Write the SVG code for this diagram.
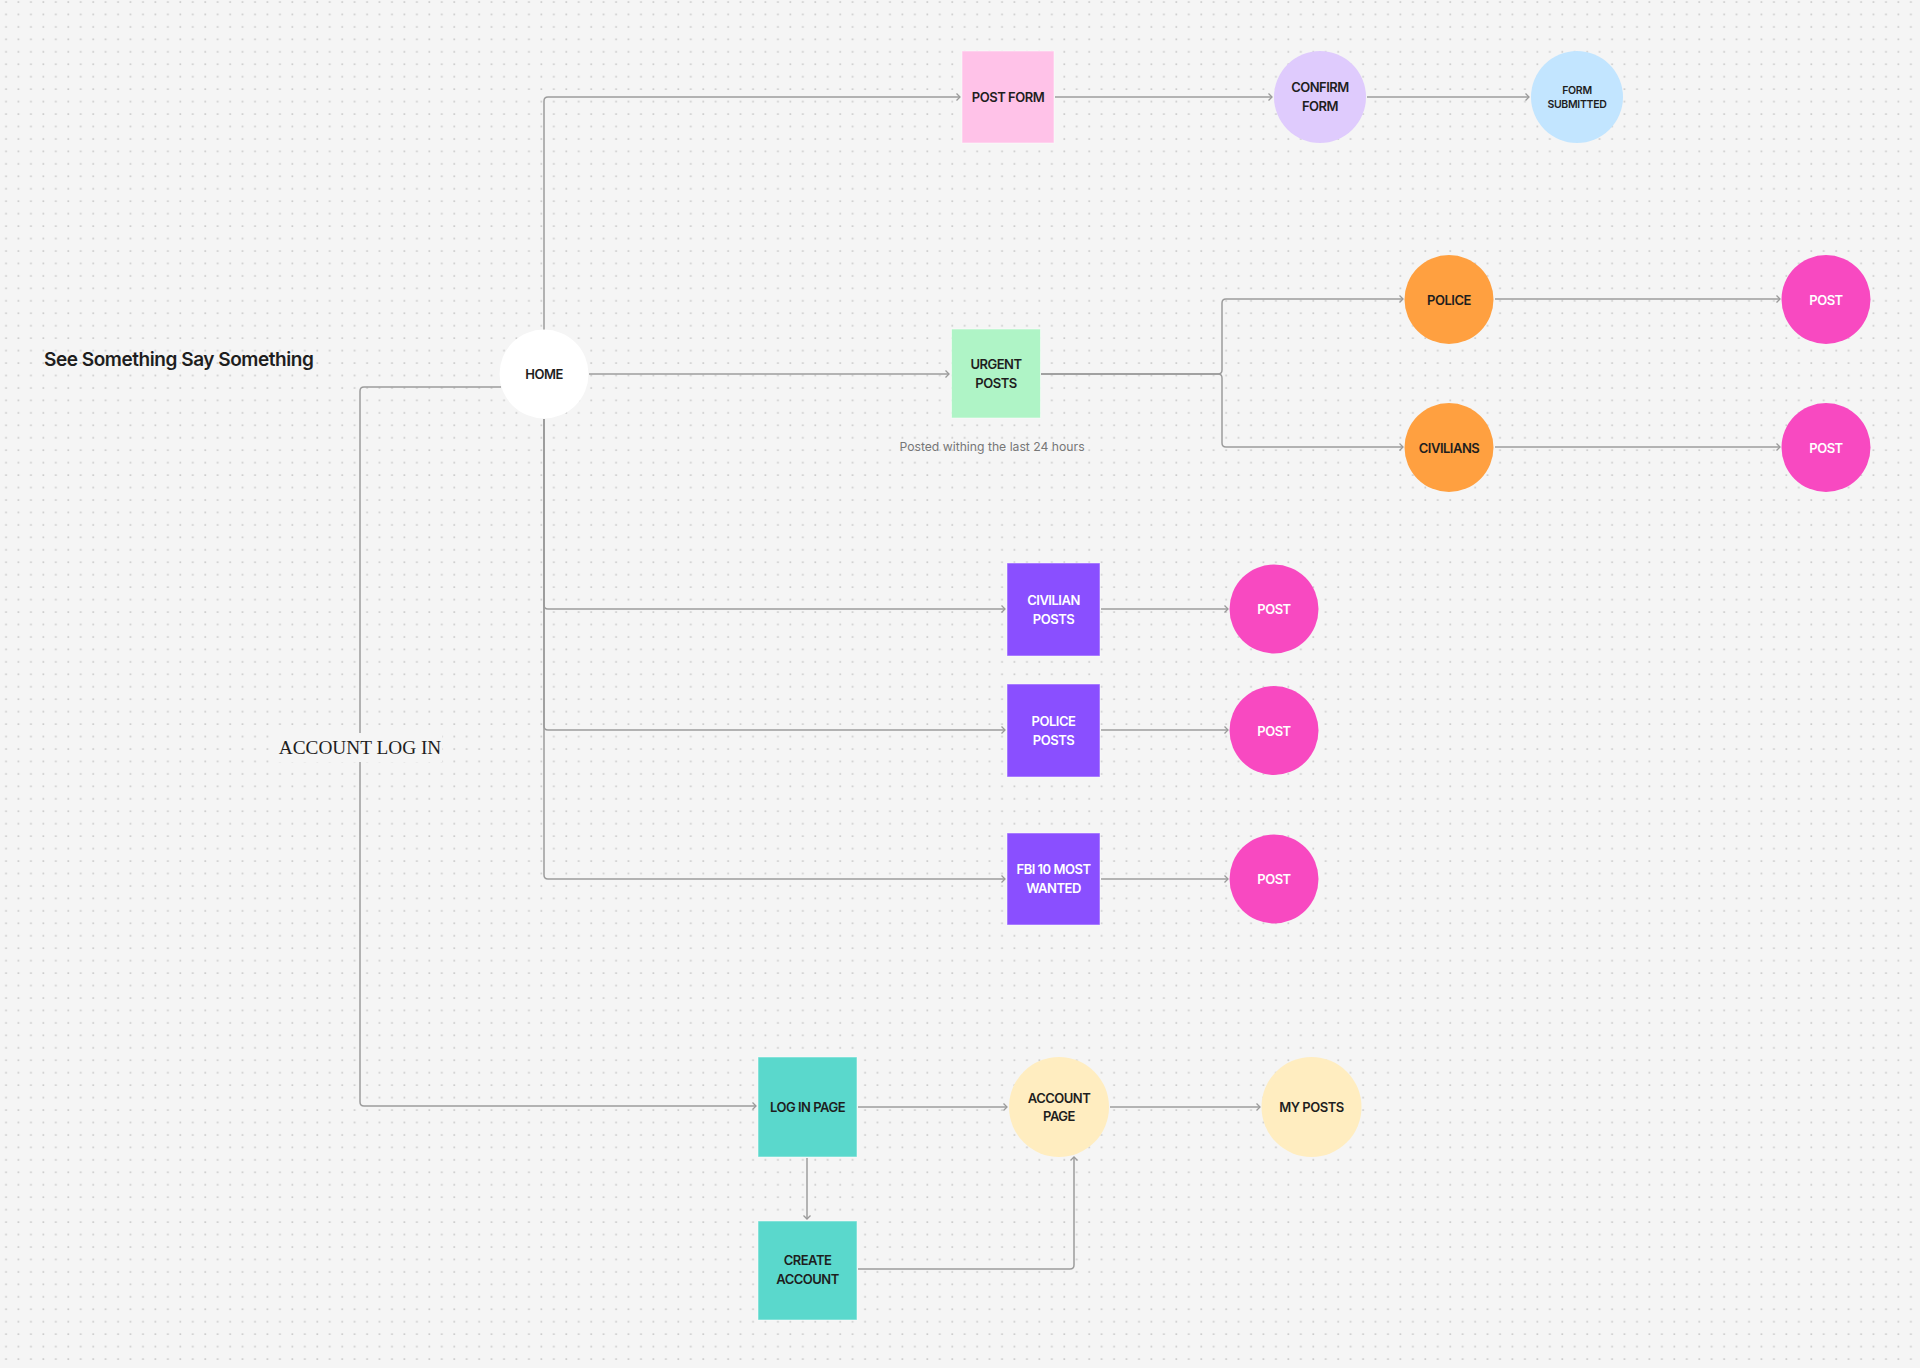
<svg xmlns="http://www.w3.org/2000/svg" width="1920" height="1368" viewBox="0 0 1920 1368">
  <defs>
    <pattern id="dots" x="0" y="0" width="12.45" height="12.45" patternUnits="userSpaceOnUse">
      <rect x="5.2" y="1.2" width="1.7" height="1.7" fill="#cbcbcb"/>
    </pattern>
    <marker id="arr" markerWidth="10" markerHeight="10" refX="5" refY="4" orient="auto" markerUnits="userSpaceOnUse">
      <path d="M1.5,0.5 L5,4 L1.5,7.5" fill="none" stroke="#9a9a9a" stroke-width="1.3"/>
    </marker>
  </defs>
  <style>
    .lbl { font-family: Inter, "Liberation Sans", sans-serif; font-weight: 600; font-size: 13px; letter-spacing: -0.5px; text-anchor: middle; fill: #1e1e1e; }
    .w { fill: #ffffff; }
    .sm { font-size: 10.5px; letter-spacing: -0.3px; }
    .conn { fill: none; stroke: #9c9c9c; stroke-width: 1.5; }
    .box { stroke: #ffffff; stroke-opacity: 0.5; stroke-width: 1; }
  </style>
  <rect width="1920" height="1368" fill="#f5f5f5"/>
  <rect width="1920" height="1368" fill="url(#dots)"/>

  <text x="44" y="366" font-family="Inter, 'Liberation Sans', sans-serif" font-weight="600" font-size="19" letter-spacing="-0.45" fill="#1e1e1e">See Something Say Something</text>

  <g id="connectors">
    <path class="conn" d="M544,330 V101 Q544,97 548,97 H960" marker-end="url(#arr)"/>
    <path class="conn" d="M589,374 H949" marker-end="url(#arr)"/>
    <path class="conn" d="M1055,97 H1272" marker-end="url(#arr)"/>
    <path class="conn" d="M1367,97 H1529" marker-end="url(#arr)"/>
    <path class="conn" d="M1041,374 H1218 Q1222,374 1222,370 V303 Q1222,299 1226,299 H1403" marker-end="url(#arr)"/>
    <path class="conn" d="M1041,374 H1218 Q1222,374 1222,378 V443 Q1222,447 1226,447 H1403" marker-end="url(#arr)"/>
    <path class="conn" d="M1495,299 H1780" marker-end="url(#arr)"/>
    <path class="conn" d="M1495,447 H1780" marker-end="url(#arr)"/>
    <path class="conn" d="M544,419 V605 Q544,609 548,609 H1005" marker-end="url(#arr)"/>
    <path class="conn" d="M544,419 V726 Q544,730 548,730 H1005" marker-end="url(#arr)"/>
    <path class="conn" d="M544,419 V875 Q544,879 548,879 H1005" marker-end="url(#arr)"/>
    <path class="conn" d="M1101,609 H1228" marker-end="url(#arr)"/>
    <path class="conn" d="M1101,730 H1228" marker-end="url(#arr)"/>
    <path class="conn" d="M1101,879 H1228" marker-end="url(#arr)"/>
    <path class="conn" d="M501,387 H364 Q360,387 360,391 V1102 Q360,1106 364,1106 H756" marker-end="url(#arr)"/>
    <path class="conn" d="M858,1107 H1007" marker-end="url(#arr)"/>
    <path class="conn" d="M807,1158 V1219" marker-end="url(#arr)"/>
    <path class="conn" d="M858,1269 H1070 Q1074,1269 1074,1265 V1157" marker-end="url(#arr)"/>
    <path class="conn" d="M1110,1107 H1260" marker-end="url(#arr)"/>
  </g>

  <g id="account-log-in-label">
    <rect x="278" y="733" width="164" height="29" fill="#f5f5f5"/>
    <text x="360" y="754" font-family="'Liberation Serif', 'Times New Roman', serif" font-size="19.3" text-anchor="middle" fill="#1e1e1e">ACCOUNT LOG IN</text>
  </g>

  <g id="home">
    <circle cx="544" cy="374" r="44.5" fill="#ffffff"/>
    <text class="lbl" x="544" y="378.5">HOME</text>
  </g>

  <g id="post-form">
    <rect class="box" x="962" y="51" width="92" height="92" fill="#ffc2e8"/>
    <text class="lbl" x="1008" y="101.5">POST FORM</text>
  </g>
  <g id="confirm-form">
    <circle cx="1320" cy="97" r="46" fill="#dfcbfd"/>
    <text class="lbl" x="1320" y="92">CONFIRM</text>
    <text class="lbl" x="1320" y="111">FORM</text>
  </g>
  <g id="form-submitted">
    <circle cx="1577" cy="97" r="46" fill="#c2e5ff"/>
    <text class="lbl sm" x="1577" y="94">FORM</text>
    <text class="lbl sm" x="1577" y="108">SUBMITTED</text>
  </g>

  <g id="urgent-posts">
    <rect class="box" x="951.5" y="329" width="89" height="89" fill="#aff4c6"/>
    <text class="lbl" x="996" y="369">URGENT</text>
    <text class="lbl" x="996" y="387.5">POSTS</text>
  </g>
  <text x="992" y="450.5" font-family="Inter, 'Liberation Sans', sans-serif" font-size="12.2" text-anchor="middle" fill="#777777">Posted withing the last 24 hours</text>

  <g id="police">
    <circle cx="1449" cy="299.5" r="44.5" fill="#ffa040"/>
    <text class="lbl" x="1449" y="304.5">POLICE</text>
  </g>
  <g id="civilians">
    <circle cx="1449" cy="447.5" r="44.5" fill="#ffa040"/>
    <text class="lbl" x="1449" y="452.5">CIVILIANS</text>
  </g>
  <g id="post-police">
    <circle cx="1826" cy="299.5" r="44.5" fill="#f849c1"/>
    <text class="lbl w" x="1826" y="304.5">POST</text>
  </g>
  <g id="post-civilians">
    <circle cx="1826" cy="447.5" r="44.5" fill="#f849c1"/>
    <text class="lbl w" x="1826" y="452.5">POST</text>
  </g>

  <g id="civilian-posts">
    <rect class="box" x="1007" y="563" width="93" height="93" fill="#8a4fff"/>
    <text class="lbl w" x="1053.5" y="605">CIVILIAN</text>
    <text class="lbl w" x="1053.5" y="624">POSTS</text>
  </g>
  <g id="police-posts">
    <rect class="box" x="1007" y="684" width="93" height="93" fill="#8a4fff"/>
    <text class="lbl w" x="1053.5" y="726">POLICE</text>
    <text class="lbl w" x="1053.5" y="745">POSTS</text>
  </g>
  <g id="fbi-most-wanted">
    <rect class="box" x="1007" y="833" width="93" height="92" fill="#8a4fff"/>
    <text class="lbl w" x="1053.5" y="874">FBI 10 MOST</text>
    <text class="lbl w" x="1053.5" y="893">WANTED</text>
  </g>
  <g id="post-1">
    <circle cx="1274" cy="609" r="44.5" fill="#f849c1"/>
    <text class="lbl w" x="1274" y="614">POST</text>
  </g>
  <g id="post-2">
    <circle cx="1274" cy="730.5" r="44.5" fill="#f849c1"/>
    <text class="lbl w" x="1274" y="735.5">POST</text>
  </g>
  <g id="post-3">
    <circle cx="1274" cy="879" r="44.5" fill="#f849c1"/>
    <text class="lbl w" x="1274" y="884">POST</text>
  </g>

  <g id="log-in-page">
    <rect class="box" x="758" y="1057" width="99" height="100" fill="#5ad8cc"/>
    <text class="lbl" x="807.5" y="1111.5">LOG IN PAGE</text>
  </g>
  <g id="create-account">
    <rect class="box" x="758" y="1221" width="99" height="99" fill="#5ad8cc"/>
    <text class="lbl" x="807.5" y="1265">CREATE</text>
    <text class="lbl" x="807.5" y="1284">ACCOUNT</text>
  </g>
  <g id="account-page">
    <circle cx="1059" cy="1107" r="50" fill="#ffedc0"/>
    <text class="lbl" x="1059" y="1102.5">ACCOUNT</text>
    <text class="lbl" x="1059" y="1121">PAGE</text>
  </g>
  <g id="my-posts">
    <circle cx="1311.5" cy="1107" r="50" fill="#ffedc0"/>
    <text class="lbl" x="1311.5" y="1112">MY POSTS</text>
  </g>
</svg>
